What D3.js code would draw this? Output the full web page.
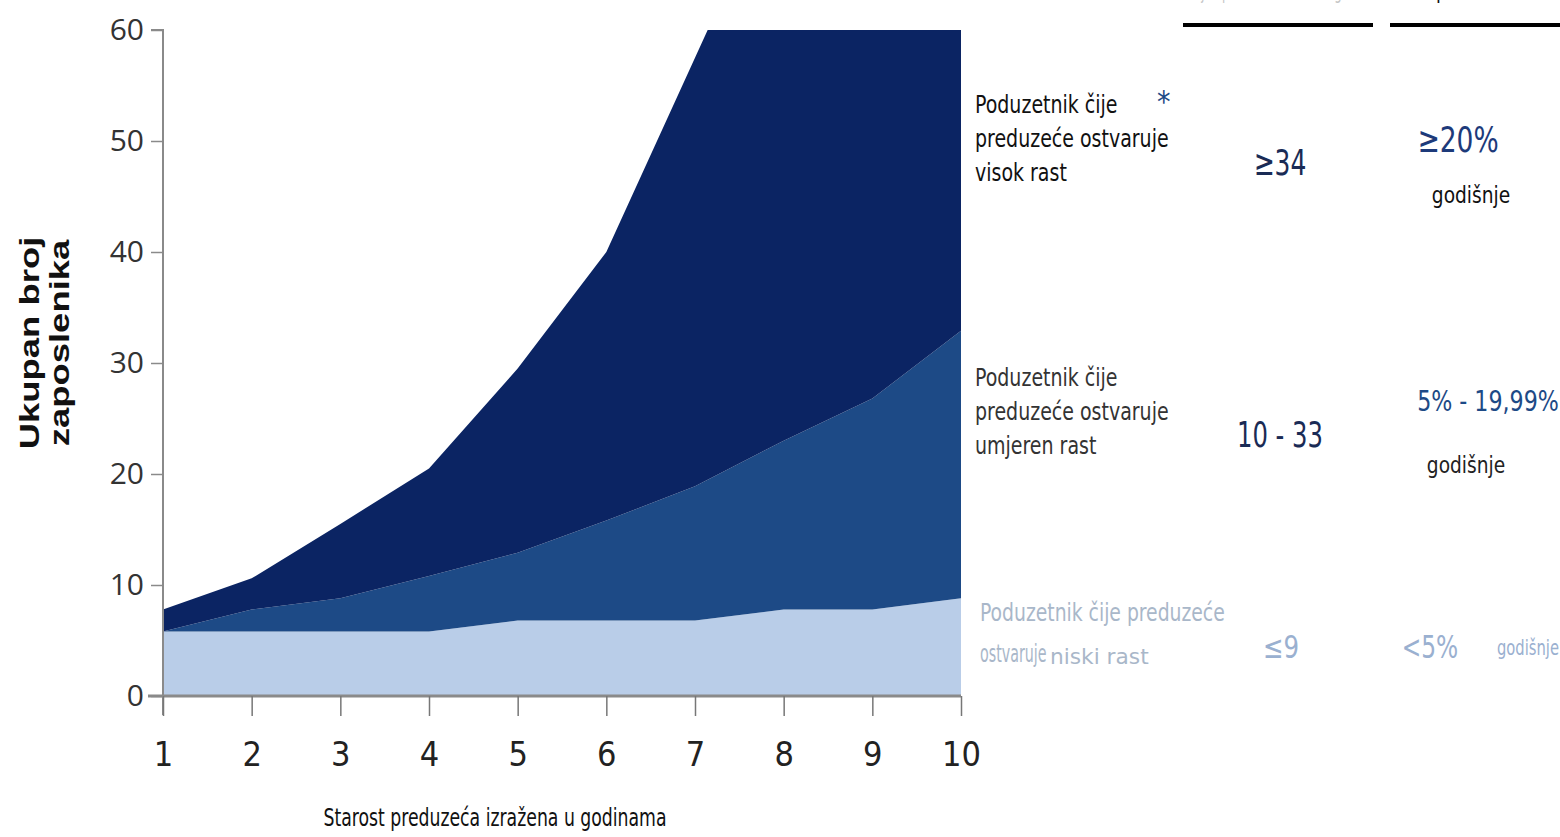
<!DOCTYPE html>
<html>
<head>
<meta charset="utf-8">
<script src="https://cdn.jsdelivr.net/npm/d3@7"></script>
<style>
  body { margin: 0; background: #fff; }
  svg { display: block; }
  .narrow { font-family: "DejaVu Sans Condensed", "Liberation Sans Narrow", sans-serif; }
</style>
</head>
<body>
<svg id="chart" width="1560" height="837"></svg>
<script>
// data (cumulative tops of each band)
var years = [1, 2, 3, 4, 5, 6, 7, 8, 9, 10]
var lowGrowth = [5.8, 5.8, 5.8, 5.8, 6.8, 6.8, 6.8, 7.8, 7.8, 8.8]
var moderateGrowth = [5.8, 7.8, 8.8, 10.8, 12.9, 15.8, 18.9, 23, 26.8, 32.9]
var highGrowth = [7.8, 10.6, 15.5, 20.5, 29.5, 40, 57.5, 75, 95, 120]
var yTicks = [0, 10, 20, 30, 40, 50, 60]

var bandColors = ['#b9cde8', '#1d4a86', '#0b2463']

var svg = d3.select('#chart')

var x = d3.scaleLinear().domain([1, 10]).range([163, 961])
var y = d3.scaleLinear().domain([0, 60]).range([696, 30])

svg.append('clipPath').attr('id', 'plotClip')
  .append('rect').attr('x', x(1)).attr('y', y(60))
  .attr('width', x(10) - x(1)).attr('height', y(0) - y(60))

var bands = [
  { lo: years.map(function() { return 0 }), hi: lowGrowth },
  { lo: lowGrowth, hi: moderateGrowth },
  { lo: moderateGrowth, hi: highGrowth }
]

var area = d3.area()
  .x(function(d) { return x(d.year) })
  .y0(function(d) { return y(d.lo) })
  .y1(function(d) { return y(d.hi) })

var plot = svg.append('g').attr('clip-path', 'url(#plotClip)')
bands.forEach(function(b, i) {
  var rows = years.map(function(yr, j) { return { year: yr, lo: b.lo[j], hi: b.hi[j] } })
  plot.append('path').attr('d', area(rows)).attr('fill', bandColors[i])
})

// y axis
var yAxis = d3.axisLeft(y).tickValues(yTicks).tickSize(12).tickPadding(7)
var gy = svg.append('g').attr('transform', 'translate(' + x(1) + ',0)').call(yAxis)
gy.select('.domain').attr('stroke', '#8a8a8a').attr('stroke-width', 2)
  .attr('d', 'M-12,' + y(60) + 'H0V715')
gy.selectAll('.tick line').attr('stroke', '#8a8a8a').attr('stroke-width', 1.5)
gy.selectAll('.tick text').attr('fill', '#333').style('font-family', '"Open Sans", sans-serif')
  .style('font-size', '30px')

// x axis
var xAxis = d3.axisBottom(x).tickValues(years).tickSize(20).tickPadding(26)
var gx = svg.append('g').attr('transform', 'translate(0,' + y(0) + ')').call(xAxis)
gx.select('.domain').attr('stroke', '#8a8a8a').attr('stroke-width', 3)
  .attr('d', 'M148,0H' + x(10))
gx.selectAll('.tick line').attr('stroke', '#777').attr('stroke-width', 1.5)
gx.selectAll('.tick text').attr('fill', '#222').attr('class', 'narrow')
  .style('font-size', '34px')

// axis titles (stretched along the text like the original)
var yt = svg.append('text').attr('transform', 'translate(46,343) rotate(-90) scale(1.35,1)')
  .attr('text-anchor', 'middle')
  .style('font-family', '"Liberation Sans", Arial, sans-serif')
  .style('font-weight', 'bold').style('font-size', '27px').attr('fill', '#111')
yt.append('tspan').attr('x', 0).attr('dy', '-0.25em').text('Ukupan broj')
yt.append('tspan').attr('x', 0).attr('dy', '1.1em').text('zaposlenika')

function addText(tx, ty, str, size, color, anchor, sx) {
  return svg.append('text').attr('class', 'narrow')
    .attr('transform', 'translate(' + tx + ',' + ty + ') scale(' + (sx || 1) + ',1)')
    .attr('text-anchor', anchor || 'start').style('font-size', size + 'px')
    .attr('fill', color).text(str)
}

addText(495, 826, 'Starost preduzeća izražena u godinama', 24, '#111', 'middle', 0.8)

// table headers (cut off at the top edge)
addText(1278, -1, 'Broj zaposlenih nakon 10 godina', 22, '#c4c4c4', 'middle', 0.6)
addText(1468, -1, 'zaposlenika', 22, '#111', 'middle', 0.9)
svg.append('line').attr('x1', 1183).attr('x2', 1373).attr('y1', 25).attr('y2', 25)
  .attr('stroke', '#000').attr('stroke-width', 4)
svg.append('line').attr('x1', 1390).attr('x2', 1560).attr('y1', 25).attr('y2', 25)
  .attr('stroke', '#000').attr('stroke-width', 4)

// right side legend table
var groupLabels = [
  ['Poduzetnik čije', 'preduzeće ostvaruje', 'visok rast'],
  ['Poduzetnik čije', 'preduzeće ostvaruje', 'umjeren rast'],
  ['Poduzetnik čije preduzeće', 'ostvaruje', 'niski rast']
]
var employeeRanges = ['≥34', '10 - 33', '≤9']
var growthRates = ['≥20%', '5% - 19,99%', '<5%']

groupLabels[0].forEach(function(t, i) { addText(975, 113 + i * 34, t, 24, '#111', 'start', 0.88) })
addText(1157, 112, '*', 30, '#1d4a86')
addText(1280, 175, employeeRanges[0], 36, '#1a2b55', 'middle', 0.77)
addText(1458, 152, growthRates[0], 36, '#1d3a7a', 'middle', 0.82)
addText(1471, 203, 'godišnje', 23, '#111', 'middle', 0.9)

groupLabels[1].forEach(function(t, i) { addText(975, 386 + i * 34, t, 24, '#333', 'start', 0.88) })
addText(1280, 447, employeeRanges[1], 36, '#1a2b55', 'middle', 0.75)
addText(1488, 411, growthRates[1], 28, '#1d4a86', 'middle', 0.88)
addText(1466, 473, 'godišnje', 23, '#222', 'middle', 0.9)

addText(980, 621, groupLabels[2][0], 24, '#a9b7c9', 'start', 0.87)
addText(980, 662, groupLabels[2][1], 24, '#a9b7c9', 'start', 0.66)
addText(1050, 664, groupLabels[2][2], 21, '#a9b7c9', 'start', 1.15)
addText(1281, 658, employeeRanges[2], 32, '#9ab0d0', 'middle', 0.85)
addText(1430, 658, growthRates[2], 32, '#9ab0d0', 'middle', 0.81)
addText(1497, 655, 'godišnje', 21, '#9ab0d0', 'start', 0.78)
</script>
</body>
</html>
